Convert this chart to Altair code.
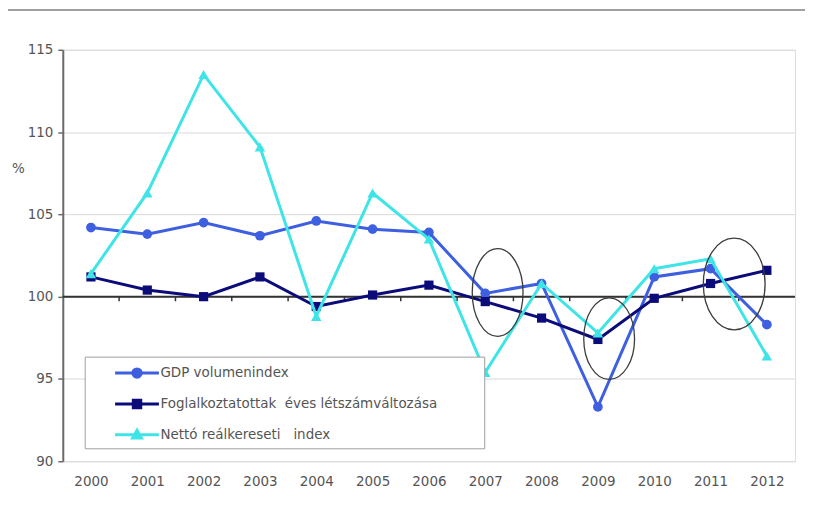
import altair as alt
import pandas as pd

# ---- data ----
years = list(range(2000, 2013))
gdp = [104.2, 103.8, 104.5, 103.7, 104.6, 104.1, 103.9, 100.2, 100.8, 93.3, 101.2, 101.7, 98.3]
emp = [101.2, 100.4, 100.0, 101.2, 99.4, 100.1, 100.7, 99.7, 98.7, 97.4, 99.9, 100.8, 101.6]
net = [101.4, 106.3, 113.5, 109.1, 98.8, 106.3, 103.5, 95.4, 100.8, 97.8, 101.7, 102.3, 96.4]
series_names = [
    "GDP volumenindex",
    "Foglalkoztatottak\u00a0 éves létszámváltozása",
    "Nettó reálkereseti\u00a0\u00a0 index",
]
y_ticks = [90, 95, 100, 105, 110, 115]

# annotation ellipse centres (year, value)
ell_year = [2007.22, 2009.2, 2011.42]
ell_value = [100.25, 97.45, 100.77]

# ---- styles ----
colors = ["#3d5fe0", "#0b0b7a", "#3ee4e6"]
shapes = ["circle", "square", "triangle-up"]
sizes = [95, 85, 110]
ell_px = [(51, 88), (51, 82), (62, 92)]  # width, height in px
legend_paths = [
    "M -2 0 L 2 0 M -0.38 0 A 0.38 0.38 0 1 0 0.38 0 A 0.38 0.38 0 1 0 -0.38 0 Z",
    "M -2 0 L 2 0 M -0.34 -0.34 L 0.34 -0.34 L 0.34 0.34 L -0.34 0.34 Z",
    "M -2 0 L 2 0 M 0 -0.42 L 0.4 0.3 L -0.4 0.3 Z",
]
FONT = "DejaVu Sans"
TXT = "#555555"

rows = []
for name, vals in zip(series_names, [gdp, emp, net]):
    for yr, v in zip(years, vals):
        rows.append({"year": yr, "value": v, "series": name})
df = pd.DataFrame(rows)

x_enc = alt.X(
    "year:Q",
    scale=alt.Scale(domain=[1999.5, 2012.5], nice=False, zero=False),
    axis=alt.Axis(values=years, format="d", ticks=False, domain=False, grid=False,
                  title=None, labelFont=FONT, labelFontSize=13.5, labelColor=TXT,
                  labelPadding=13, labelFlush=False),
)
y_enc = alt.Y(
    "value:Q",
    scale=alt.Scale(domain=[90, 115], nice=False, zero=False),
    axis=alt.Axis(values=y_ticks, grid=True, gridColor="#d9d9d9", gridWidth=1,
                  domainColor="#6a6a6a", domainWidth=2, tickColor="#6a6a6a", tickSize=5,
                  tickWidth=1.5, labelPadding=5, labelFont=FONT, labelFontSize=13.5,
                  labelColor=TXT, title="%", titleAngle=0, titleX=-45, titleY=119,
                  titleAlign="center", titleBaseline="middle", titleFont=FONT,
                  titleFontSize=13.5, titleFontWeight="normal", titleColor=TXT),
)

layers = []

# 100 baseline
base_df = pd.DataFrame({"value": [100]})
layers.append(alt.Chart(base_df).mark_rule(color="#333333", strokeWidth=2).encode(y=y_enc))

# tick marks on baseline at category boundaries
half = pd.DataFrame({"year": [y + 0.5 for y in years[:-1]], "value": [100] * 12,
                     "low": [99.72] * 12})
layers.append(alt.Chart(half).mark_rule(color="#333333", strokeWidth=1.5).encode(
    x=x_enc, y=y_enc, y2="low:Q"))

# series
for name, c, shp, sz in zip(series_names, colors, shapes, sizes):
    layers.append(
        alt.Chart(df).transform_filter(alt.datum.series == name)
        .mark_line(color=c, strokeWidth=3,
                   point=alt.OverlayMarkDef(shape=shp, filled=True, size=sz, color=c, opacity=1))
        .encode(x=x_enc, y=y_enc)
    )

# ellipses
for ex, ey, (w, h) in zip(ell_year, ell_value, ell_px):
    a = w / h
    path = f"M {-a:.4f} 0 A {a:.4f} 1 0 1 0 {a:.4f} 0 A {a:.4f} 1 0 1 0 {-a:.4f} 0 Z"
    layers.append(
        alt.Chart(pd.DataFrame({"year": [ex], "value": [ey]}))
        .mark_point(shape=path, size=h * h, filled=False, stroke="#3c3c3c",
                    strokeWidth=1.3, opacity=1)
        .encode(x=x_enc, y=y_enc)
    )

# legend carrier layer (marks clipped away, only the legend is shown)
leg = alt.Legend(
    orient="none", legendX=22, legendY=308, title=None, padding=4,
    strokeColor="#a0a0a0", fillColor="white", symbolSize=484, symbolStrokeWidth=3,
    symbolOffset=36, labelOffset=11, rowPadding=8, labelLimit=500,
    labelFont=FONT, labelFontSize=13.5, labelColor=TXT,
    labelExpr="datum.label + '\u00a0\u00a0\u00a0\u00a0\u00a0\u00a0\u00a0\u00a0\u00a0\u00a0\u200b'",
)
leg_df = df.assign(value=80)
layers.append(
    alt.Chart(leg_df).mark_point(filled=True, clip=True, opacity=1, strokeWidth=3)
    .encode(
        x=x_enc, y=y_enc,
        fill=alt.Fill("series:N", scale=alt.Scale(domain=series_names, range=colors), legend=leg),
        stroke=alt.Stroke("series:N", scale=alt.Scale(domain=series_names, range=colors), legend=leg),
        shape=alt.Shape("series:N", scale=alt.Scale(domain=series_names, range=legend_paths), legend=leg),
    )
)

# top frame line of the picture
layers.append(
    alt.Chart(pd.DataFrame({"a": [0]})).mark_rule(color="#a0a0a0", strokeWidth=2)
    .encode(x=alt.value(-55), x2=alt.value(745), y=alt.value(-40))
)

chart = alt.layer(*layers).properties(
    width=735, height=413, autosize="none",
    padding={"left": 55, "top": 41, "right": 10, "bottom": 50},
).configure_view(stroke="#a6a6a6", strokeWidth=1.5).configure(background="white")

chart.save("out.html", embed_options={"renderer": "svg", "actions": False})
